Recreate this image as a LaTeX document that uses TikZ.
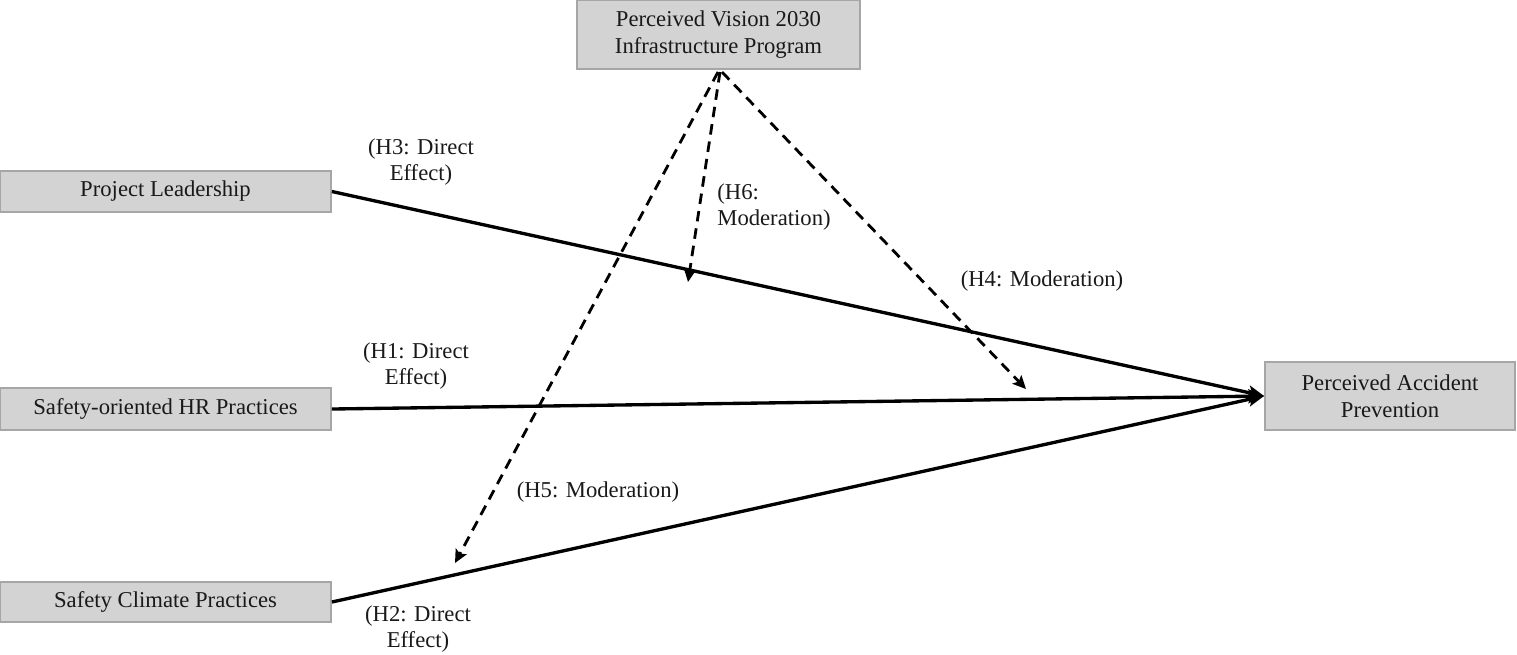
\documentclass[tikz,border=0pt]{standalone}
\usepackage{fontspec}
\setmainfont{Liberation Serif}
\usetikzlibrary{arrows.meta}
\definecolor{boxfill}{RGB}{211,211,211}
\definecolor{boxline}{RGB}{166,166,166}
\definecolor{txt}{RGB}{25,25,25}
\begin{document}
\begin{tikzpicture}[x=0.02cm,y=-0.02cm,
  every node/.style={font=\fontsize{12.9}{15.3}\selectfont, text=txt},
  varbox/.style={draw=boxline, fill=boxfill, line width=1.1pt, inner sep=0pt, align=center},
  direct/.style={line width=1.9pt, -{Stealth[length=9pt,width=8pt,inset=2pt]}},
  moder/.style={line width=1.6pt, dash pattern=on 6pt off 4pt, -{Stealth[length=7.5pt,width=7pt,inset=1.5pt]}},
  lab/.style={align=center, inner sep=0pt}]
\useasboundingbox (0,0) rectangle (1517,654);
\node[varbox, minimum width=5.66cm, minimum height=1.38cm] (pv) at (718.5,34.5) {Perceived Vision 2030\\Infrastructure Program};
\node[varbox, minimum width=5.0cm, minimum height=1.36cm] (pa) at (1390,396) {Perceived Accident\\Prevention};
\node[varbox, minimum width=6.62cm, minimum height=0.82cm] (pl) at (165.5,191.5) {Project Leadership};
\node[varbox, minimum width=6.62cm, minimum height=0.84cm] (hr) at (165.5,409) {Safety-oriented HR Practices};
\node[varbox, minimum width=6.62cm, minimum height=0.80cm] (sc) at (165.5,602) {Safety Climate Practices};
\draw[direct] (pl.east) -- (pa.west);
\draw[direct] (hr.east) -- (pa.west);
\draw[direct] (sc.east) -- (pa.west);
\coordinate (s5) at (718,72);
\coordinate (s6) at (720,72);
\coordinate (s4) at (722,72);
\coordinate (e5) at (455,563);
\coordinate (e6) at (688,282);
\coordinate (e4) at (1026,389);
\draw[moder] (s5) -- (e5);
\draw[moder] (s6) -- (e6);
\draw[moder] (s4) -- (e4);
\node[lab] (l3) at (421,162) {(H3: Direct\\Effect)};
\node[lab, align=left, anchor=west] (l6) at (717,207) {(H6:\\Moderation)};
\node[lab] (l4) at (1042,281) {(H4: Moderation)};
\node[lab] (l1) at (416,366) {(H1: Direct\\Effect)};
\node[lab] (l5) at (598,492) {(H5: Moderation)};
\node[lab] (l2) at (418,629) {(H2: Direct\\Effect)};
\end{tikzpicture}
\end{document}
